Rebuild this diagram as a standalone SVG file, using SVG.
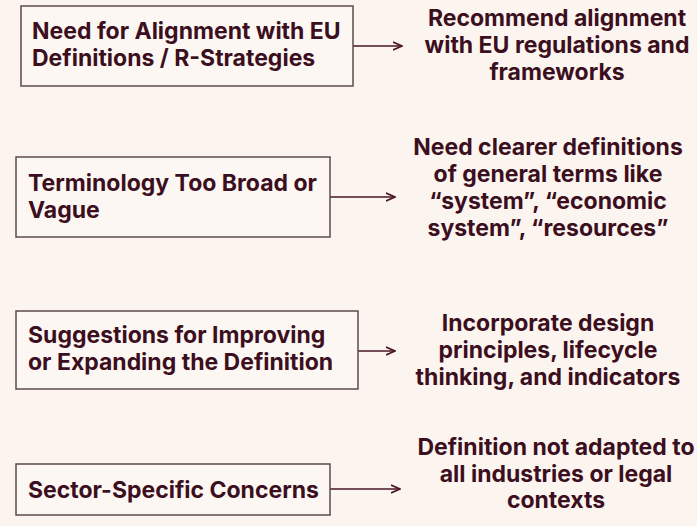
<svg xmlns="http://www.w3.org/2000/svg" width="697" height="526" viewBox="0 0 697 526">
<defs>
<style>
.box{fill:#fdf7f3;stroke:#5e4a4c;stroke-width:1.5}
.t{font-family:Inter,"Liberation Sans",sans-serif;font-weight:700;font-size:23px;fill:#3b0f20}
.c{text-anchor:middle}
.edge{stroke:#4a1626;stroke-width:1.6;fill:none}
</style>
<marker id="ah" viewBox="0 0 10 10" refX="9" refY="5" markerWidth="10" markerHeight="10" markerUnits="userSpaceOnUse" orient="auto">
<path d="M0,1 L9,5 L0,9" fill="none" stroke="#4a1626" stroke-width="1.6"/>
</marker>
</defs>
<rect width="697" height="526" fill="#fcf4ef"/>
<g id="connectors">
<line class="edge" x1="353" y1="46" x2="402" y2="46" marker-end="url(#ah)"/>
<line class="edge" x1="330" y1="197" x2="395" y2="197" marker-end="url(#ah)"/>
<line class="edge" x1="358" y1="351" x2="395" y2="351" marker-end="url(#ah)"/>
<line class="edge" x1="330" y1="489" x2="400" y2="489" marker-end="url(#ah)"/>
</g>
<g id="node1">
<rect class="box" x="21" y="6" width="332" height="80"/>
<text class="t" x="32" y="39">Need for Alignment with EU</text>
<text class="t" x="32" y="66">Definitions / R-Strategies</text>
</g>
<g id="result1">
<text class="t c" x="557" y="26">Recommend alignment</text>
<text class="t c" x="557" y="53">with EU regulations and</text>
<text class="t c" x="557" y="80">frameworks</text>
</g>
<g id="node2">
<rect class="box" x="16" y="157" width="314" height="80"/>
<text class="t" x="28" y="191">Terminology Too Broad or</text>
<text class="t" x="28" y="218">Vague</text>
</g>
<g id="result2">
<text class="t c" x="548" y="155">Need clearer definitions</text>
<text class="t c" x="548" y="182">of general terms like</text>
<text class="t c" x="548" y="209">“system”, “economic</text>
<text class="t c" x="548" y="236">system”, “resources”</text>
</g>
<g id="node3">
<rect class="box" x="16" y="311" width="342" height="78"/>
<text class="t" x="28" y="343">Suggestions for Improving</text>
<text class="t" x="28" y="370">or Expanding the Definition</text>
</g>
<g id="result3">
<text class="t c" x="548" y="331">Incorporate design</text>
<text class="t c" x="548" y="358">principles, lifecycle</text>
<text class="t c" x="548" y="385">thinking, and indicators</text>
</g>
<g id="node4">
<rect class="box" x="16" y="464" width="314" height="51"/>
<text class="t" x="28" y="498">Sector-Specific Concerns</text>
</g>
<g id="result4">
<text class="t c" x="556" y="455">Definition not adapted to</text>
<text class="t c" x="556" y="482">all industries or legal</text>
<text class="t c" x="556" y="508">contexts</text>
</g>
</svg>
